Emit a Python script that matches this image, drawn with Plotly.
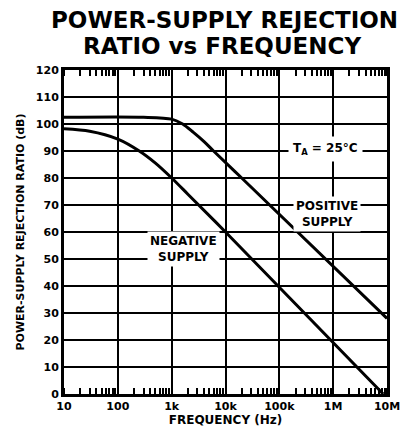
import plotly.graph_objects as go

# Positive supply PSRR (dB) vs frequency (Hz)
pos_freq = [10, 300, 1000, 1600, 2500, 4000, 6000, 20000, 10000000]
pos_psrr = [102.5, 102.5, 101.8, 100, 97, 93.5, 90, 80, 28]

# Negative supply PSRR (dB) vs frequency (Hz)
neg_freq = [10, 30, 100, 250, 500, 1000, 2000, 10000, 8500000]
neg_psrr = [98.2, 97.3, 94.4, 90, 85.5, 80, 74, 60, 0]

x_tickvals = [10, 100, 1000, 10000, 100000, 1000000, 10000000]
x_ticktext = ["10", "100", "1k", "10k", "100k", "1M", "10M"]
y_tickvals = list(range(0, 121, 10))

FONT = "DejaVu Sans"

fig = go.Figure()
for fx, fy in [(pos_freq, pos_psrr), (neg_freq, neg_psrr)]:
    fig.add_trace(go.Scatter(x=fx, y=fy, mode="lines",
                             line=dict(color="black", width=3, shape="spline", smoothing=0.8),
                             showlegend=False, hoverinfo="skip"))

ann_font = dict(family=FONT, size=12, color="black", weight="bold")
fig.add_annotation(x=5.86, y=90.8, xref="x", yref="y", text="T<sub>A</sub> = 25°C",
                   showarrow=False, bgcolor="white", font=ann_font, borderpad=4)
fig.add_annotation(x=5.89, y=66.5, xref="x", yref="y", text="POSITIVE<br>SUPPLY",
                   showarrow=False, bgcolor="white", font=ann_font, borderpad=2)
fig.add_annotation(x=3.226, y=53.7, xref="x", yref="y", text="NEGATIVE<br>SUPPLY",
                   showarrow=False, bgcolor="white", font=ann_font, borderpad=2)

title_font = dict(family=FONT, size=23, color="black", weight="bold")
fig.add_annotation(x=0.497, y=1.154, xref="paper", yref="paper", text="POWER-SUPPLY REJECTION",
                   showarrow=False, font=title_font, xanchor="center", yanchor="middle")
fig.add_annotation(x=0.488, y=1.074, xref="paper", yref="paper", text="RATIO vs FREQUENCY",
                   showarrow=False, font=title_font, xanchor="center", yanchor="middle")

tick_font = dict(family=FONT, size=11, color="black", weight="bold")
fig.update_layout(
    width=403, height=429,
    margin=dict(l=51, r=11, t=62, b=42),
    paper_bgcolor="white", plot_bgcolor="white",
    xaxis=dict(type="log", range=[1, 7], tickvals=x_tickvals, ticktext=x_ticktext,
               showgrid=True, gridcolor="black", gridwidth=1.5,
               showline=True, linecolor="black", linewidth=3, mirror="ticks",
               ticks="", zeroline=False,
               minor=dict(ticks="inside", ticklen=6, tickcolor="black", tickwidth=1.5,
                          dtick="D1", showgrid=False),
               tickfont=tick_font,
               title=dict(text="FREQUENCY (Hz)", standoff=4,
                          font=dict(family=FONT, size=12, color="black", weight="bold"))),
    yaxis=dict(range=[0, 120], tickvals=y_tickvals,
               showgrid=True, gridcolor="black", gridwidth=1.5,
               showline=True, linecolor="black", linewidth=3, mirror=True,
               ticks="", zeroline=False,
               tickfont=tick_font,
               title=dict(text="POWER-SUPPLY REJECTION RATIO (dB)", standoff=9,
                          font=dict(family=FONT, size=11, color="black", weight="bold"))),
)

fig.write_html("out.html")
